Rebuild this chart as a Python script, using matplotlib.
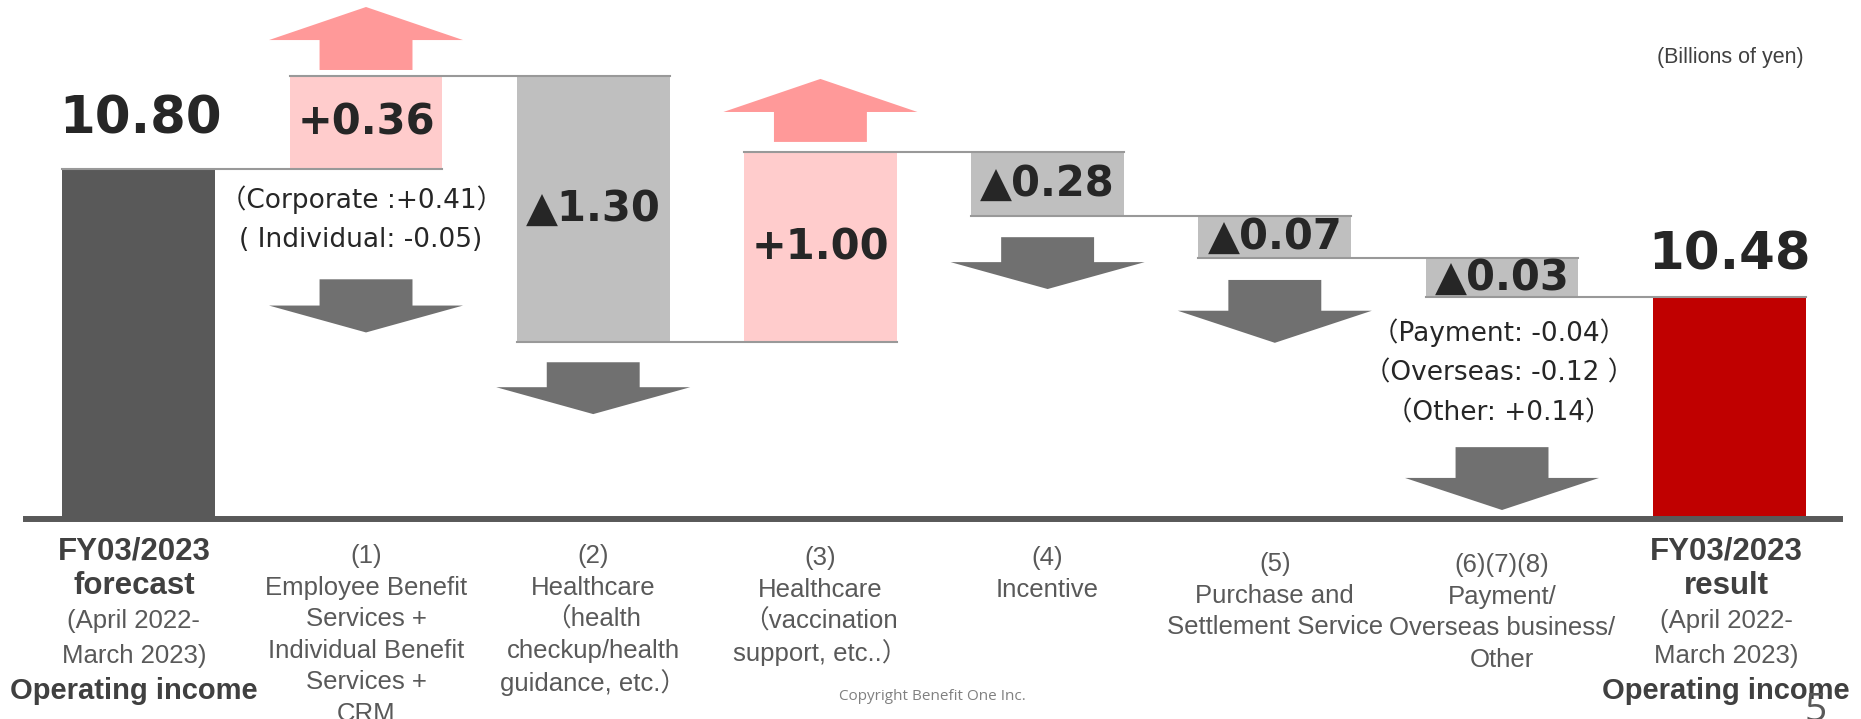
import matplotlib
matplotlib.use("Agg")
import matplotlib.pyplot as plt
from matplotlib.patches import FancyArrow

# Operating income, billions of yen
forecast_value = 10.80
result_value = 10.48
step_values = [0.36, -1.30, 1.00, -0.28, -0.07, -0.03]

# bar levels as laid out on the slide (the slide is not drawn to scale)
bar_levels = [10.80, 13.67, 5.46, 11.33, 9.35, 8.06, 6.85]

forecast_lines = ["FY03/2023", "forecast", "(April 2022-", "March 2023)", "Operating income"]
result_lines = ["FY03/2023", "result", "(April 2022-", "March 2023)", "Operating income"]
total_bold = [True, True, False, False, True]

category_lines = [
    ["(1)", "Employee Benefit", "Services +", "Individual Benefit", "Services +", "CRM"],
    ["(2)", "Healthcare", "（health", "checkup/health", "guidance, etc.）"],
    ["(3)", "Healthcare", "（vaccination", "support, etc..）"],
    ["(4)", "Incentive"],
    ["(5)", "Purchase and", "Settlement Service"],
    ["(6)(7)(8)", "Payment/", "Overseas business/", "Other"],
]

corporate_notes = ["（Corporate :+0.41）", "( Individual: -0.05)"]
other_notes = ["（Payment: -0.04）", "（Overseas: -0.12 ）", "（Other: +0.14）"]

# colours
DARK = "#595959"
RED = "#C00000"
UP_BAR = "#FFCCCC"
DOWN_BAR = "#BFBFBF"
UP_ARROW = "#FF9999"
DOWN_ARROW = "#707070"
LINK = "#999999"
TXT = "#262626"

LATIN = ["Liberation Sans", "Noto Sans CJK JP"]
WIDE = ["DejaVu Sans", "Noto Sans CJK JP"]

BAR_W = 0.673


def label_value(v, total=False):
    if total:
        return f"{v:.2f}"
    if v >= 0:
        return f"+{v:.2f}"
    return f"▲{abs(v):.2f}"


def put(ax, x, y, dx, dy, text, **kw):
    ax.annotate(text, (x, y), xytext=(dx, dy), textcoords="offset pixels",
                ha="center", va="center", annotation_clip=False, **kw)


def arrow(ax, x, y_start, length, head, color):
    # vertical block arrow, length < 0 points down
    a = FancyArrow(x, y_start, 0, length, width=0.409, head_width=0.854,
                   head_length=head, length_includes_head=True,
                   color=color, linewidth=0, zorder=2)
    ax.add_patch(a)


fig = plt.figure(figsize=(18.61, 7.19), dpi=100)
ax = fig.add_axes([0, 0, 1, 1])
ax.set_xlim(-0.611, 7.580)
ax.set_ylim(-6.17, 16.02)
ax.axis("off")

n_steps = len(step_values)
x_result = n_steps + 1

# totals
ax.bar(0, bar_levels[0], width=BAR_W, color=DARK, zorder=2)
ax.bar(x_result, bar_levels[-1], width=BAR_W, color=RED, zorder=2)

# steps
for i, v in enumerate(step_values):
    lo, hi = sorted((bar_levels[i], bar_levels[i + 1]))
    ax.bar(i + 1, hi - lo, bottom=lo, width=BAR_W,
           color=UP_BAR if v > 0 else DOWN_BAR, zorder=2)
    put(ax, i + 1, (lo + hi) / 2, 0, 0, label_value(v), fontsize=30,
        fontweight="bold", color=TXT, family=["DejaVu Sans"], zorder=5)

# connector lines
for i, lvl in enumerate(bar_levels[:-1]):
    ax.plot([i - BAR_W / 2, i + 1 + BAR_W / 2], [lvl, lvl], color=LINK, lw=1.5, zorder=3)
ax.plot([n_steps - BAR_W / 2, x_result + BAR_W / 2], [bar_levels[-1]] * 2,
        color=LINK, lw=1.5, zorder=3)

# total labels
put(ax, 0, bar_levels[0], 2, 50, label_value(forecast_value, True), fontsize=37,
    fontweight="bold", color=TXT, family=["DejaVu Sans"])
put(ax, x_result, bar_levels[-1], 0, 42, label_value(result_value, True), fontsize=37,
    fontweight="bold", color=TXT, family=["DejaVu Sans"])

# up arrows above the increases
arrow(ax, 1, bar_levels[1] + 0.19, 1.944, 1.02, UP_ARROW)
arrow(ax, 3, bar_levels[3] + 0.31, 1.944, 1.02, UP_ARROW)
# down arrows below the decreases: (bar, gap, length, head) in y units
down_arrows = [(1, 3.40, 1.64, 0.83), (2, 0.62, 1.60, 0.83), (4, 0.65, 1.60, 0.83),
               (5, 0.68, 1.94, 0.99), (6, 4.63, 1.94, 0.99)]
for b, gap, length, head in down_arrows:
    bottom = min(bar_levels[b - 1], bar_levels[b])
    arrow(ax, b, bottom - gap, -length, head, DOWN_ARROW)

# notes
for k, t in enumerate(corporate_notes):
    put(ax, 1, bar_levels[0], -5, -31 - 40 * k, t, fontsize=19, color=TXT, family=WIDE)
for k, t in enumerate(other_notes):
    put(ax, 6, bar_levels[-1], -3, -36 - 40 * k, t, fontsize=19, color=TXT, family=WIDE)

# baseline
ax.axhline(0, xmin=25.5 / 1861, xmax=1840 / 1861, color=DARK, lw=4.3, zorder=4)

# category labels
total_sizes = [22.5, 22.5, 18.5, 18.5, 21]
for k, (t, b) in enumerate(zip(forecast_lines, total_bold)):
    put(ax, 0, 0, -5, -32 - 35 * k, t, fontsize=total_sizes[k],
        fontweight="bold" if b else "normal", color="#404040" if b else DARK, family=LATIN)
for k, (t, b) in enumerate(zip(result_lines, total_bold)):
    put(ax, x_result, 0, -3, -32 - 35 * k, t, fontsize=total_sizes[k],
        fontweight="bold" if b else "normal", color="#404040" if b else DARK, family=LATIN)

first_offsets = [37, 37, 39, 39, 45, 46]
for i, lines in enumerate(category_lines):
    for k, t in enumerate(lines):
        put(ax, i + 1, 0, 0, -first_offsets[i] - 31.5 * k, t, fontsize=18.5,
            color=DARK, family=LATIN)

fig.text(1730 / 1861, 1 - 57 / 719, "(Billions of yen)", ha="center", va="center",
         fontsize=15.5, color="#404040", family=LATIN)
fig.text(932 / 1861, 1 - 697 / 719, "Copyright Benefit One Inc.", ha="center", va="center",
         fontsize=11, color="#808080", family=["Open Sans"])
fig.text(1816 / 1861, 1 - 692 / 719, "5", ha="center", va="top",
         fontsize=28, color=DARK, family=["Open Sans"])

fig.savefig("out.png", dpi=100)
